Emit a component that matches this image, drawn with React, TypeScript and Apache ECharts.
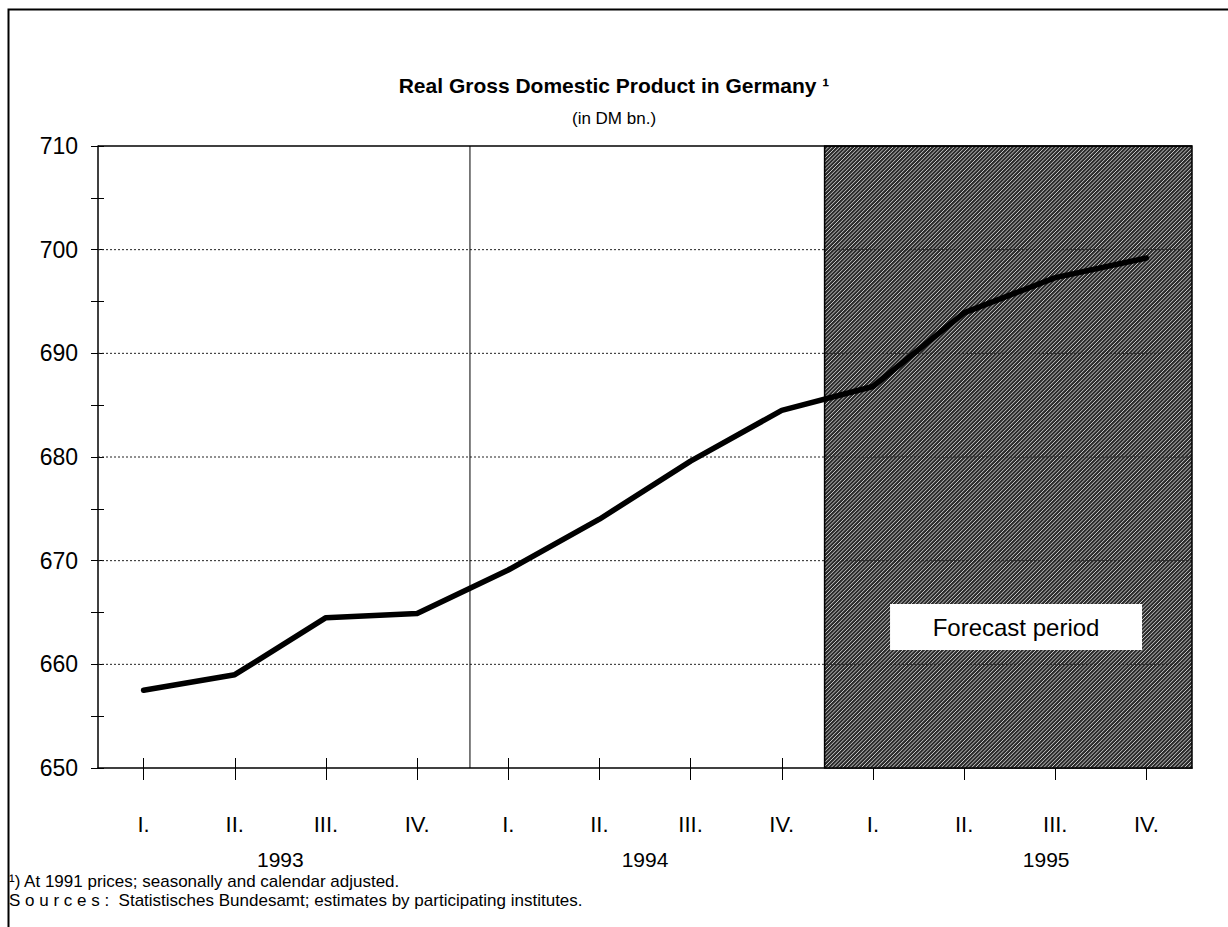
import React, { useEffect, useRef } from "react";
import * as echarts from "echarts";

const quarters = ["I.", "II.", "III.", "IV.", "I.", "II.", "III.", "IV.", "I.", "II.", "III.", "IV."];
const quarterPos = [0, 1, 2, 3, 4, 5, 6, 7, 8, 9, 10, 11];
const gdp = [657.5, 659.0, 664.5, 664.9, 669.1, 674.0, 679.6, 684.5, 686.8, 693.9, 697.3, 699.2];
const years = ["1993", "1994", "1995"];
const yearPos = [1.5, 5.5, 9.9];
const yGrid = [660, 670, 680, 690, 700];
const yearDivider = 3.58;
const forecastStart = 7.47;
const X_MIN = -0.5;
const X_MAX = 11.5;
const Y_MIN = 650;
const Y_MAX = 710;

const FONT = "'Liberation Sans', Arial, Helvetica, sans-serif";

export default function App() {
  const ref = useRef<HTMLDivElement>(null);

  useEffect(() => {
    if (!ref.current) return;
    const chart = echarts.init(ref.current, undefined, { renderer: "svg" });

    const renderItem = (params: any, api: any) => {
      const children: any[] = [];
      const tl = api.coord([forecastStart, Y_MAX]);
      const br = api.coord([X_MAX, Y_MIN]);
      const x0 = tl[0], y0 = tl[1], x1 = br[0], y1 = br[1];
      children.push({
        type: "rect",
        shape: { x: x0, y: y0, width: x1 - x0, height: y1 - y0 },
        style: { fill: "#2c2c2c" },
      });
      const step = 3.8;
      for (let c = x0 + y0 + 1; c < x1 + y1; c += step) {
        const sx = Math.max(x0, c - y1);
        const ex = Math.min(x1, c - y0);
        if (ex <= sx) continue;
        children.push({
          type: "line",
          shape: { x1: sx, y1: c - sx, x2: ex, y2: c - ex },
          style: { stroke: "#c8c8c8", lineWidth: 1 },
        });
      }
      yGrid.forEach((v) => {
        const a = api.coord([X_MIN, v]);
        const b = api.coord([X_MAX, v]);
        children.push({
          type: "line",
          shape: { x1: a[0], y1: a[1], x2: b[0], y2: b[1] },
          style: { stroke: "#222", lineWidth: 1, lineDash: [2, 2] },
        });
      });
      const ta = api.coord([X_MIN, Y_MAX]);
      const tb = api.coord([X_MAX, Y_MAX]);
      children.push({
        type: "line",
        shape: { x1: ta[0], y1: ta[1], x2: tb[0], y2: tb[1] },
        style: { stroke: "#000", lineWidth: 1.5 },
      });
      children.push({
        type: "rect",
        shape: { x: x0, y: y0, width: x1 - x0, height: y1 - y0 },
        style: { fill: "none", stroke: "#000", lineWidth: 1.5 },
      });
      const da = api.coord([yearDivider, Y_MAX]);
      const db = api.coord([yearDivider, Y_MIN]);
      children.push({
        type: "line",
        shape: { x1: da[0], y1: da[1], x2: db[0], y2: db[1] },
        style: { stroke: "#000", lineWidth: 1 },
      });
      const lc = api.coord([9.57, 663.6]);
      children.push({
        type: "rect",
        shape: { x: lc[0] - 126, y: lc[1] - 23, width: 252, height: 46 },
        style: { fill: "#fff" },
      });
      children.push({
        type: "text",
        x: lc[0],
        y: lc[1],
        style: {
          text: "Forecast period",
          fill: "#000",
          font: `24px ${FONT}`,
          align: "center",
          verticalAlign: "middle",
        },
      });
      return { type: "group", children };
    };

    const option: any = {
      animation: false,
      backgroundColor: "#fff",
      textStyle: { fontFamily: FONT },
      title: {
        text: "Real Gross Domestic Product in Germany ¹",
        subtext: "(in DM bn.)",
        left: "center",
        top: 70,
        itemGap: 14,
        textStyle: { fontFamily: FONT, fontSize: 21, fontWeight: "bold", color: "#000" },
        subtextStyle: { fontFamily: FONT, fontSize: 17, color: "#000" },
      },
      grid: { left: 98, right: 36, top: 146, bottom: 159 },
      xAxis: [
        {
          type: "value",
          min: X_MIN,
          max: X_MAX,
          position: "bottom",
          axisLine: { show: true, onZero: false, lineStyle: { color: "#000", width: 1.5 } },
          axisTick: {
            show: true,
            customValues: quarterPos,
            length: 12,
            inside: false,
            lineStyle: { color: "#000", width: 1 },
          },
          axisLabel: {
            customValues: quarterPos,
            formatter: (v: number) => quarters[Math.round(v)],
            margin: 45,
            color: "#000",
            fontSize: 22,
            fontFamily: FONT,
          },
          splitLine: { show: false },
        },
        {
          type: "value",
          min: X_MIN,
          max: X_MAX,
          position: "bottom",
          axisLine: { show: false, onZero: false },
          axisTick: {
            show: true,
            customValues: quarterPos,
            length: 10,
            inside: true,
            lineStyle: { color: "#000", width: 1 },
          },
          axisLabel: { show: false },
          splitLine: { show: false },
        },
        {
          type: "value",
          min: X_MIN,
          max: X_MAX,
          position: "bottom",
          axisLine: { show: false, onZero: false },
          axisTick: { show: false },
          axisLabel: {
            customValues: yearPos,
            formatter: (v: number) => years[yearPos.indexOf(v)] ?? "",
            margin: 81,
            color: "#000",
            fontSize: 21,
            fontFamily: FONT,
          },
          splitLine: { show: false },
        },
      ],
      yAxis: [
        {
          type: "value",
          min: Y_MIN,
          max: Y_MAX,
          interval: 5,
          axisLine: { show: true, onZero: false, lineStyle: { color: "#000", width: 1.5 } },
          axisTick: { show: true, length: 7, inside: false, lineStyle: { color: "#000" } },
          axisLabel: {
            formatter: (v: number) => (v % 10 === 0 ? String(v) : ""),
            margin: 20,
            color: "#000",
            fontSize: 23,
            fontFamily: FONT,
          },
          splitLine: { show: false },
        },
        {
          type: "value",
          min: Y_MIN,
          max: Y_MAX,
          interval: 5,
          position: "left",
          axisLine: { show: false, onZero: false },
          axisTick: { show: true, length: 6, inside: true, lineStyle: { color: "#000" } },
          axisLabel: { show: false },
          splitLine: { show: false },
        },
      ],
      series: [
        {
          type: "custom",
          xAxisIndex: 0,
          yAxisIndex: 0,
          data: [[0, Y_MIN]],
          renderItem,
          clip: false,
          silent: true,
          z: 1,
        },
        {
          type: "line",
          xAxisIndex: 0,
          yAxisIndex: 0,
          data: gdp.map((v, i) => [quarterPos[i], v]),
          symbol: "none",
          lineStyle: { color: "#000", width: 5.5, join: "round", cap: "round" },
          z: 5,
        },
      ],
      graphic: [
        {
          type: "rect",
          left: 6,
          top: 7,
          shape: { width: 1221, height: 940 },
          style: { fill: "none", stroke: "#000", lineWidth: 2 },
          z: -10,
          silent: true,
        },
        {
          type: "text",
          left: 9,
          top: 873,
          style: {
            text: "¹) At 1991 prices; seasonally and calendar adjusted.",
            font: `17px ${FONT}`,
            fill: "#000",
          },
        },
        {
          type: "text",
          left: 9,
          top: 892,
          style: {
            text: "S o u r c e s :  Statistisches Bundesamt; estimates by participating institutes.",
            font: `17px ${FONT}`,
            fill: "#000",
          },
        },
      ],
    };

    chart.setOption(option);
    return () => chart.dispose();
  }, []);

  return (
    <div
      ref={ref}
      style={{ position: "fixed", left: 0, top: 0, width: 1228, height: 927, background: "#fff" }}
    />
  );
}
